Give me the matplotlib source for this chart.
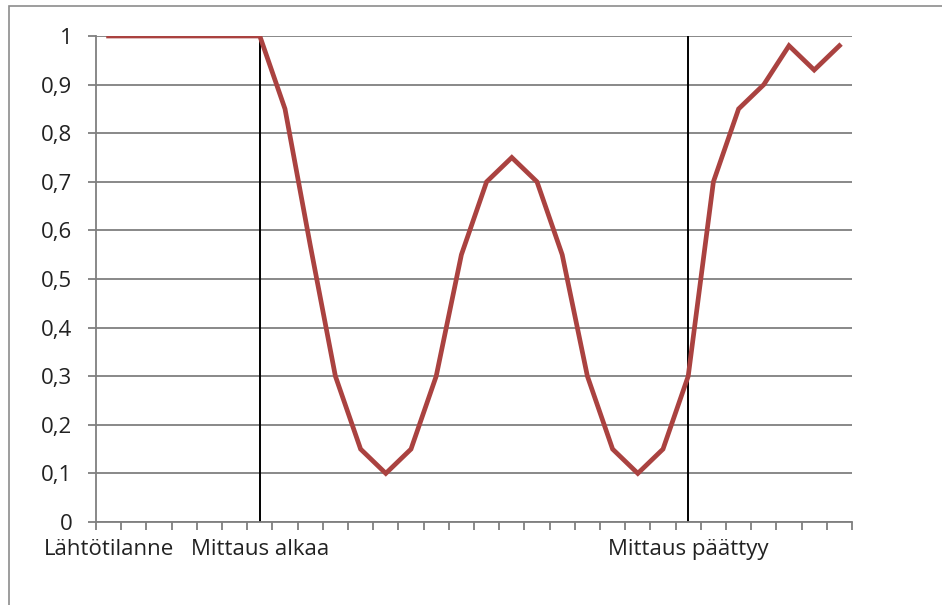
import matplotlib
matplotlib.use("Agg")
import matplotlib.pyplot as plt
from matplotlib.patches import Rectangle
import numpy as np

values = [1, 1, 1, 1, 1, 1, 1, 0.85, 0.57, 0.3, 0.15, 0.1, 0.15, 0.3, 0.55,
          0.7, 0.75, 0.7, 0.55, 0.3, 0.15, 0.1, 0.15, 0.3, 0.7, 0.85, 0.9,
          0.98, 0.93, 0.98]
label_positions = [0, 6, 23]
label_texts = ["Lähtötilanne", "Mittaus alkaa", "Mittaus päättyy"]
marker_positions = [6, 23]
y_ticks = [0, 0.1, 0.2, 0.3, 0.4, 0.5, 0.6, 0.7, 0.8, 0.9, 1]

plt.rcParams['font.family'] = ['Open Sans', 'DejaVu Sans']

W, H = 942, 605
fig = plt.figure(figsize=(W / 100, H / 100), dpi=100)
fig.patch.set_facecolor("white")

# outer chart frame
fig.patches.append(Rectangle((9 / W, -0.05), 1.1, (H - 6) / H + 0.05,
                             transform=fig.transFigure, fill=False,
                             edgecolor="#8c8c8c", linewidth=1.2))

ax = fig.add_axes([96 / W, (H - 522) / H, 756 / W, 486 / H])
n = len(values)
x = np.arange(n)

ax.set_xlim(-0.5, n - 0.5)
ax.set_ylim(0, 1)

for s in ["top", "right"]:
    ax.spines[s].set_visible(False)
ax.spines["left"].set_color("#7f7f7f")
ax.spines["bottom"].set_color("#7f7f7f")
ax.spines["left"].set_linewidth(1.3)
ax.spines["bottom"].set_linewidth(1.3)

ax.set_yticks(y_ticks)
ax.set_yticklabels([("%g" % v).replace(".", ",") for v in y_ticks])
ax.yaxis.grid(True, color="#7f7f7f", linewidth=1.3)
ax.set_axisbelow(True)
ax.tick_params(axis="y", length=6, width=1.3, color="#7f7f7f", pad=11,
               labelsize=16, labelcolor="#222222")

ax.set_xticks(np.arange(-0.5, n, 1.0), minor=True)
ax.set_xticks(label_positions)
ax.set_xticklabels(label_texts)
ax.tick_params(axis="x", which="minor", length=6, width=1.3, color="#7f7f7f")
ax.tick_params(axis="x", which="major", length=0, pad=12,
               labelsize=16, labelcolor="#222222")

ax.vlines(marker_positions, 0, 1, colors="black", linewidth=1.4, zorder=2)

ax.plot(x, values, color="#AA4240", linewidth=3.4, solid_joinstyle="miter", zorder=3)

fig.savefig("out.png", dpi=100)
